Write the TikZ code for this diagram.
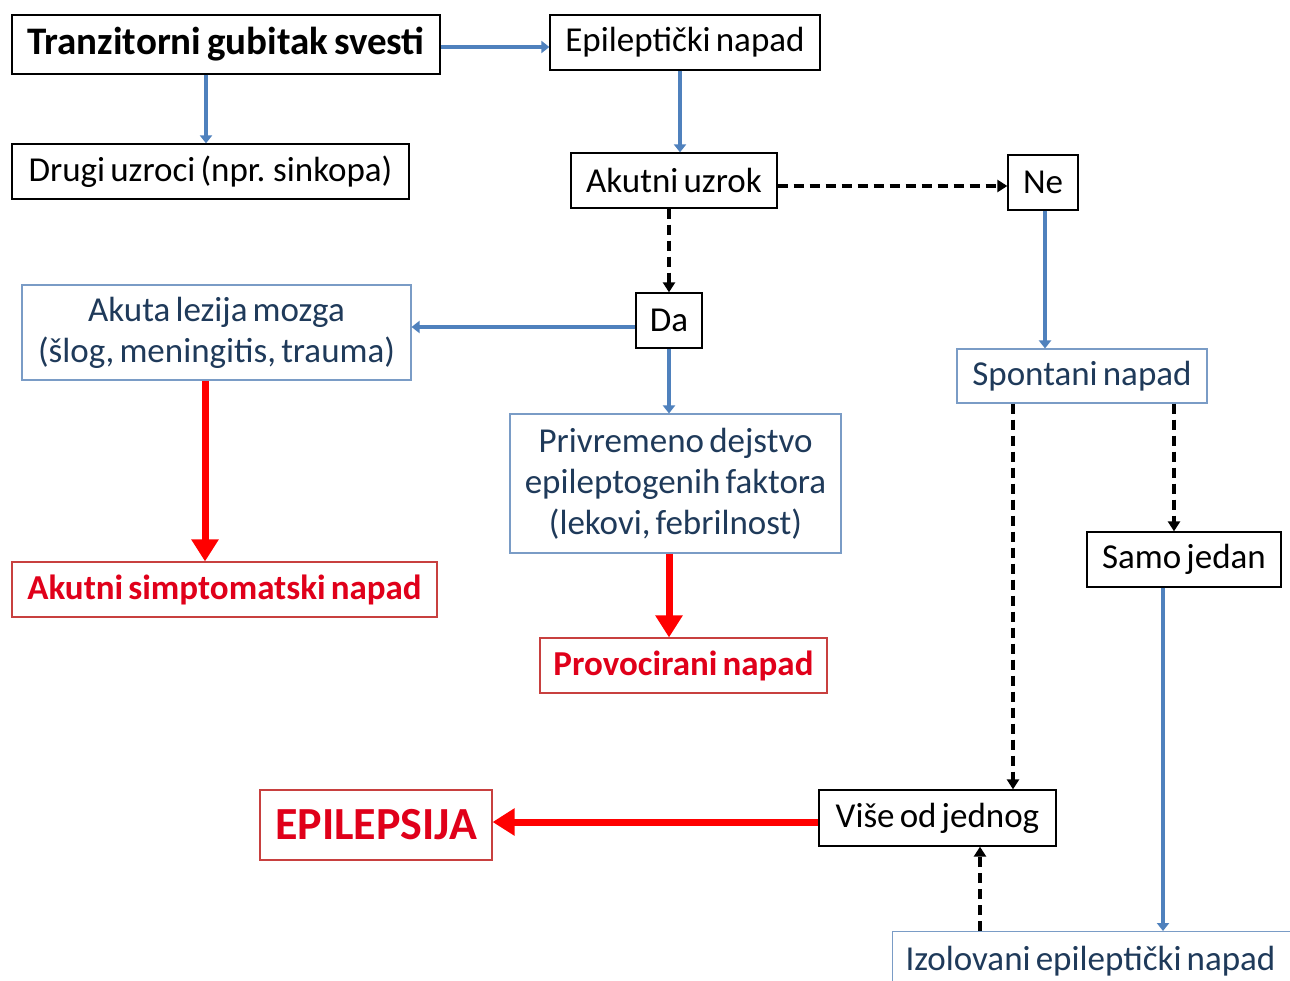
\documentclass[tikz,border=0pt]{standalone}
\usepackage{fontspec}
\setmainfont{Carlito}[WordSpace=0.65]
\usetikzlibrary{arrows.meta}
\definecolor{lineblue}{HTML}{4F81BD}
\definecolor{boxblue}{HTML}{7A9CC6}
\definecolor{textblue}{HTML}{1F3A5A}
\definecolor{boxred}{HTML}{C8403F}
\definecolor{textred}{HTML}{E0001A}
\tikzset{
  base/.style={inner sep=0pt, line width=1.3pt, align=center,
    font=\fontsize{35}{41}\selectfont},
  blackbox/.style={base, draw=black},
  bluebox/.style={base, draw=boxblue, line width=1.1pt, text=textblue},
  redbox/.style={base, draw=boxred, line width=1.1pt, text=textred,
    font=\fontsize{35}{41}\selectfont\bfseries},
  blueline/.style={draw=lineblue, line width=3.5pt,
    -{Triangle[width=12pt,length=8pt]}},
  dashline/.style={draw=black, line width=3.5pt, dash pattern=on 10pt off 6pt,
    -{Triangle[width=12pt,length=10pt]}},
  redline/.style={draw=red, line width=7pt,
    -{Triangle[width=26pt,length=22pt]}},
}
\begin{document}
\begin{tikzpicture}[x=1pt,y=-1pt]
\useasboundingbox (0,0) rectangle (1290,980);
\clip (0,0) rectangle (1290,980);
\fill[white] (0,0) rectangle (1290,980);

% first row
\node[blackbox, minimum width=428, minimum height=59,
  font=\fontsize{39}{44}\selectfont\bfseries] (T) at (226,44.5) {Tranzitorni gubitak svesti};
\node[blackbox, minimum width=270, minimum height=55] (Ep) at (685,42.5) {Epileptički napad};
\node[blackbox, minimum width=397, minimum height=55] (Dr) at (210.5,171.5) {Drugi uzroci (npr. sinkopa)};

% decision on acute cause
\node[blackbox, minimum width=206, minimum height=55] (Ak) at (674,180.5) {Akutni uzrok};
\node[blackbox, minimum width=70, minimum height=55] (Ne) at (1043,182.5) {Ne};
\node[blackbox, minimum width=66, minimum height=55] (Da) at (669,320.5) {Da};

% acute / provoked branch
\node[bluebox, minimum width=389, minimum height=95] (Le) at (216.5,332.5)
  {Akuta lezija mozga\\(šlog, meningitis, trauma)};
\node[bluebox, minimum width=331, minimum height=139] (Pr) at (675.5,483.5)
  {Privremeno dejstvo\\epileptogenih faktora\\(lekovi, febrilnost)};
\node[redbox, minimum width=425, minimum height=55] (As) at (224.5,589.5) {Akutni simptomatski napad};
\node[redbox, minimum width=287, minimum height=55] (Pv) at (683.5,665.5) {Provocirani napad};

% spontaneous branch
\node[bluebox, minimum width=250, minimum height=54] (Sp) at (1082,376) {Spontani napad};
\node[blackbox, minimum width=194, minimum height=55] (Sj) at (1184,559.5) {Samo jedan};
\node[blackbox, minimum width=237, minimum height=56] (Vi) at (937.5,818) {Više od jednog};
\node[redbox, minimum width=232, minimum height=70,
  font=\fontsize{46}{52}\selectfont\bfseries] (Epi) at (376,825) {EPILEPSIJA};
\node[bluebox, anchor=north west, minimum height=60, inner xsep=13pt] (Iz) at (892,931)
  {\makebox[385pt][l]{Izolovani epileptički napad}};

% connectors
\draw[blueline] (T.east |- 0,47) -- (Ep.west |- 0,47);
\draw[blueline] (206,0 |- T.south) -- (206,0 |- Dr.north);
\draw[blueline] (680,0 |- Ep.south) -- (680,0 |- Ak.north);
\draw[dashline] (Ak.east |- 0,186) -- (Ne.west |- 0,186);
\draw[dashline] (669,0 |- Ak.south) -- (Da.north);
\draw[blueline] (Da.west |- 0,327) -- (Le.east |- 0,327);
\draw[blueline] (Da.south) -- (669,0 |- Pr.north);
\draw[redline] (205,0 |- Le.south) -- (205,0 |- As.north);
\draw[redline] (669,0 |- Pr.south) -- (669,0 |- Pv.north);
\draw[blueline] (1045,0 |- Ne.south) -- (1045,0 |- Sp.north);
\draw[dashline] (1013,0 |- Sp.south) -- (1013,0 |- Vi.north);
\draw[dashline] (1174,0 |- Sp.south) -- (1174,0 |- Sj.north);
\draw[blueline] (1163,0 |- Sj.south) -- (1163,0 |- Iz.north);
\draw[dashline] (980,0 |- Iz.north) -- (980,0 |- Vi.south);
\draw[redline] (Vi.west |- 0,822) -- (Epi.east |- 0,822);
\end{tikzpicture}
\end{document}
